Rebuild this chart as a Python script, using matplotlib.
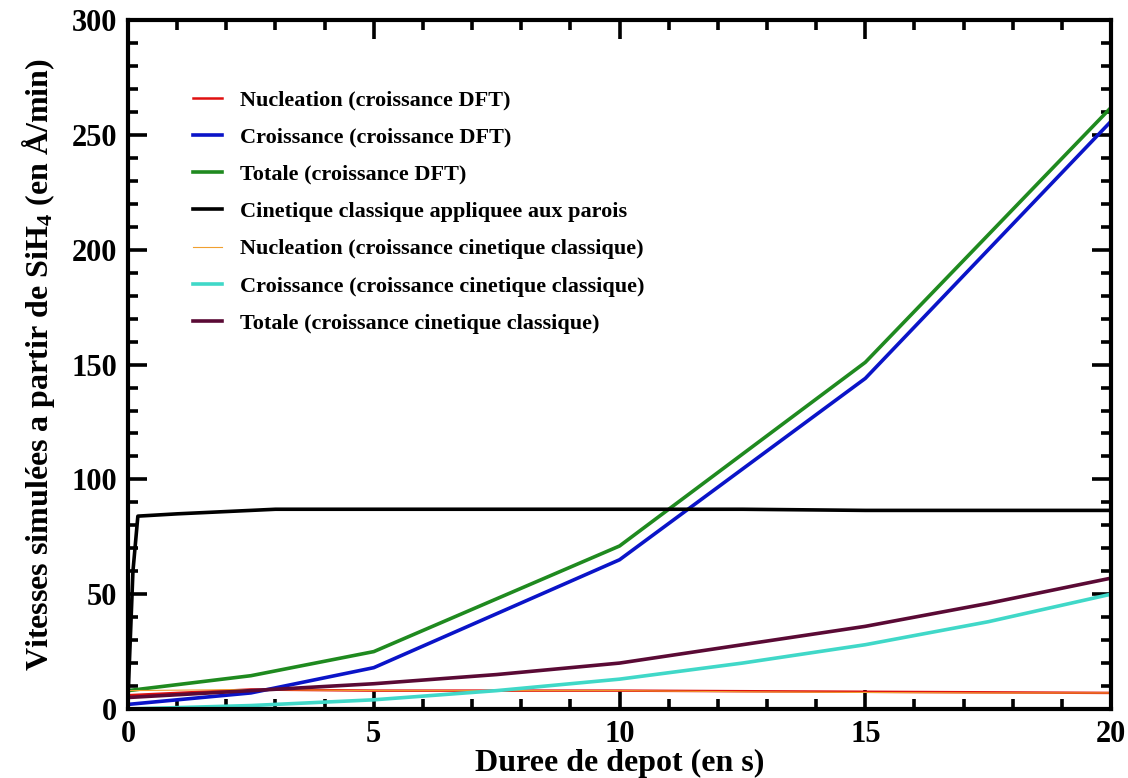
import matplotlib
matplotlib.use('Agg')
import matplotlib.pyplot as plt
from matplotlib.ticker import MultipleLocator

plt.rcParams['font.family'] = ['Liberation Serif', 'DejaVu Serif']
plt.rcParams['font.weight'] = 'bold'
plt.rcParams['mathtext.fontset'] = 'custom'
plt.rcParams['mathtext.rm'] = 'Liberation Serif:bold'
plt.rcParams['mathtext.bf'] = 'Liberation Serif:bold'
plt.rcParams['mathtext.it'] = 'Liberation Serif:bold'

# durations (s)
t_main = [0, 2.5, 5, 10, 15, 20]
nucl_dft = [6, 8.5, 8, 8, 7.5, 7]
crois_dft = [2, 7, 18, 65, 144, 256]
tot_dft = [8, 14.5, 25, 71, 151, 262]

t_wall = [0, 0.1, 0.2, 1, 2, 3, 5, 10, 12.5, 15, 20]
wall = [5, 60, 84, 85, 86, 87, 87, 87, 87, 86.5, 86.5]

t_cl = [0, 2.5, 5, 7.5, 10, 12.5, 15, 17.5, 20]
nucl_cl = [8, 8.5, 8, 8, 8, 7.5, 7.2, 7, 7]
crois_cl = [0, 1.5, 4, 8, 13, 20, 28, 38, 50]
tot_cl = [5, 8, 11, 15, 20, 28, 36, 46, 57]

labels = ['Nucleation (croissance DFT)',
          'Croissance (croissance DFT)',
          'Totale (croissance DFT)',
          'Cinetique classique appliquee aux parois',
          'Nucleation (croissance cinetique classique)',
          'Croissance (croissance cinetique classique)',
          'Totale (croissance cinetique classique)']

fig = plt.figure(figsize=(11.28, 7.78), dpi=100)
ax = fig.add_axes((0.1135, 0.0887, 0.8715, 0.8853))

lw = 2.6
ax.plot(t_main, nucl_dft, color='#e01010', lw=1.8, label=labels[0])
ax.plot(t_main, crois_dft, color='#0a14c8', lw=lw, label=labels[1])
ax.plot(t_main, tot_dft, color='#1f8a1f', lw=lw, label=labels[2])
ax.plot(t_wall, wall, color='black', lw=lw, label=labels[3])
ax.plot(t_cl, nucl_cl, color='#f0a030', lw=0.8, label=labels[4])
ax.plot(t_cl, crois_cl, color='#40d8c8', lw=lw, label=labels[5])
ax.plot(t_cl, tot_cl, color='#5a0a35', lw=lw, label=labels[6])

ax.set_xlim(0, 20)
ax.set_ylim(0, 300)
ax.xaxis.set_major_locator(MultipleLocator(5))
ax.xaxis.set_minor_locator(MultipleLocator(1))
ax.yaxis.set_major_locator(MultipleLocator(50))
ax.yaxis.set_minor_locator(MultipleLocator(10))
ax.tick_params(which='both', direction='in', top=True, right=True, width=2.6,
               labelsize=22, pad=8)
ax.tick_params(which='major', length=14)
ax.tick_params(which='minor', length=7)
for s in ax.spines.values():
    s.set_linewidth(3)

ax.set_xlabel('Duree de depot (en s)', fontsize=23, fontweight='bold', labelpad=0)
ax.set_ylabel('Vitesses simulées a partir de SiH$_4$ (en Å/min)', fontsize=23,
              fontweight='bold', labelpad=10)

ax.legend(loc='upper left', bbox_to_anchor=(0.055, 0.915), frameon=False,
          fontsize=16, handlelength=1.3, handletextpad=0.8, labelspacing=0.75,
          borderpad=0)

fig.savefig('out.png', dpi=100)
